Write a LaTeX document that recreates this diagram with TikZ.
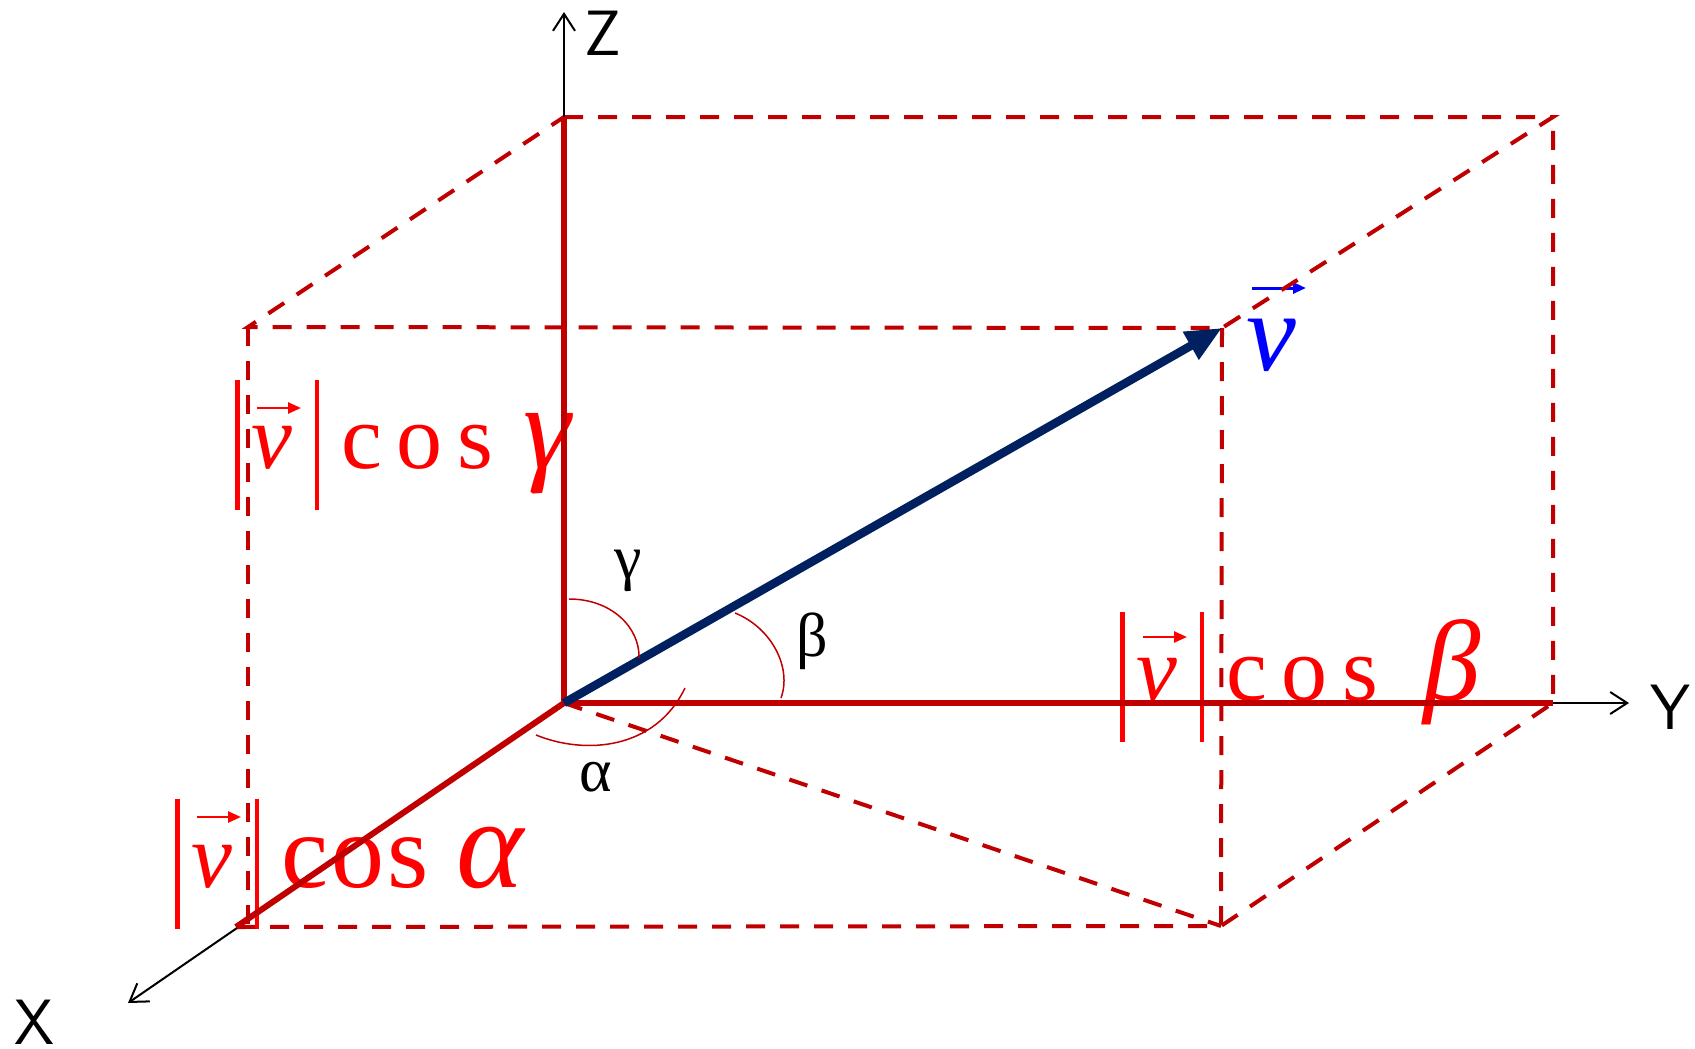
\documentclass[tikz,border=0pt]{standalone}
\usepackage{fontspec}
\setmainfont{Liberation Serif}
\usetikzlibrary{arrows.meta}

\definecolor{edgered}{HTML}{C00000}
\definecolor{labelred}{HTML}{FF0000}
\definecolor{vecnavy}{HTML}{002060}
\definecolor{vecblue}{HTML}{0000FF}

\newcommand{\normbar}{\rule[-42pt]{4.5pt}{130pt}}
% #1 cos size, #2 letter kern, #3 greek size, #4 gap, #5 greek letter
\newcommand{\magcos}[5]{{\fontsize{92}{92}\selectfont\normbar\kern12pt\textit{v}\kern22pt\normbar\kern22pt{\fontsize{#1}{#1}\selectfont c\kern#2 o\kern#2 s}\kern#4{\fontsize{#3}{#3}\selectfont\textit{#5}}}}

\begin{document}
\begin{tikzpicture}[x=1pt, y=-1pt,
  edge/.style={edgered, line width=4pt, dash pattern=on 19pt off 15pt},
  comp/.style={edgered, line width=6pt},
  axis/.style={line width=2pt, -{Straight Barb[length=17pt,width=22pt]}},
  vec/.style={vecnavy, line width=8.5pt, -{Triangle[length=36pt,width=30pt]}},
  varrow/.style={labelred, line width=2.5pt, -{Triangle[length=13pt,width=11pt]}},
  angarc/.style={edgered, line width=1.5pt},
  biglab/.style={text=labelred, inner sep=0pt, anchor=base west},
  anglab/.style={font=\fontsize{62}{62}\selectfont, inner sep=0pt},
  axlab/.style={font=\sffamily\fontsize{64}{64}\selectfont, inner sep=0pt}]
  \useasboundingbox (0,0) rectangle (1695,1049);

  % corners of the box
  \coordinate (O) at (564,703);
  \coordinate (Xc) at (236,927);
  \coordinate (Yc) at (1553,703);
  \coordinate (Zc) at (564,117);
  \coordinate (XY) at (1221,926);
  \coordinate (XZ) at (248,327);
  \coordinate (YZ) at (1553,117);
  \coordinate (P) at (1222,328);
  \coordinate (Xend) at (128,1003);
  \coordinate (Yend) at (1629,703);
  \coordinate (Zend) at (564,12);

  % components
  \node[biglab] (gammalab) at (235,468) {\magcos{92}{15pt}{120}{30pt}{γ}};
  \node[biglab] (betalab) at (1120,700) {\magcos{92}{15pt}{115}{45pt}{β}};
  \node[biglab] (alphalab) at (175,887) {\magcos{106}{3pt}{128}{28pt}{α}};
  \node[biglab, text=vecblue] (vlab) at (1246,370) {\fontsize{112}{112}\selectfont\textit{v}};
  \draw[varrow] (257,408) -- (301,408);
  \draw[varrow] (1143,637) -- (1187,637);
  \draw[varrow] (197,817) -- (241,817);
  \draw[varrow, vecblue, line width=3pt] (1252,288) -- (1306,288);

  % dashed box
  \draw[edge] (Zc) -- (YZ) -- (P) -- (XZ) -- cycle;
  \draw[edge] (XZ) -- (XZ |- Xc);
  \draw[edge] (Xc) -- (XY) -- (Yc) -- (YZ);
  \draw[edge] (P) -- (XY);
  \draw[edge] (O) -- (XY);

  % axes
  \draw[axis] (O) -- (Zend);
  \draw[axis] (O) -- (Yend);
  \draw[axis] (O) -- (Xend);
  \draw[comp] (Zc) -- (O) -- (Yc);
  \draw[comp] (O) -- (Xc);

  \draw[vec] (O) -- (P);

  % angles
  \draw[angarc] (569,599) .. controls (612,599) and (640,628) .. (639,658);
  \draw[angarc] (735,613) .. controls (772,628) and (792,668) .. (781,698);
  \draw[angarc] (685,688) .. controls (655,750) and (585,755) .. (536,735);
  \node[anglab] (gam) at (628,571) {γ};
  \node[anglab] (bet) at (812,641) {β};
  \node[anglab] (alp) at (596,777) {α};

  \node[axlab] (zlab) at (603,33) {Z};
  \node[axlab] (ylab) at (1670,707) {Y};
  \node[axlab] (xlab) at (34,1022) {X};
\end{tikzpicture}
\end{document}
